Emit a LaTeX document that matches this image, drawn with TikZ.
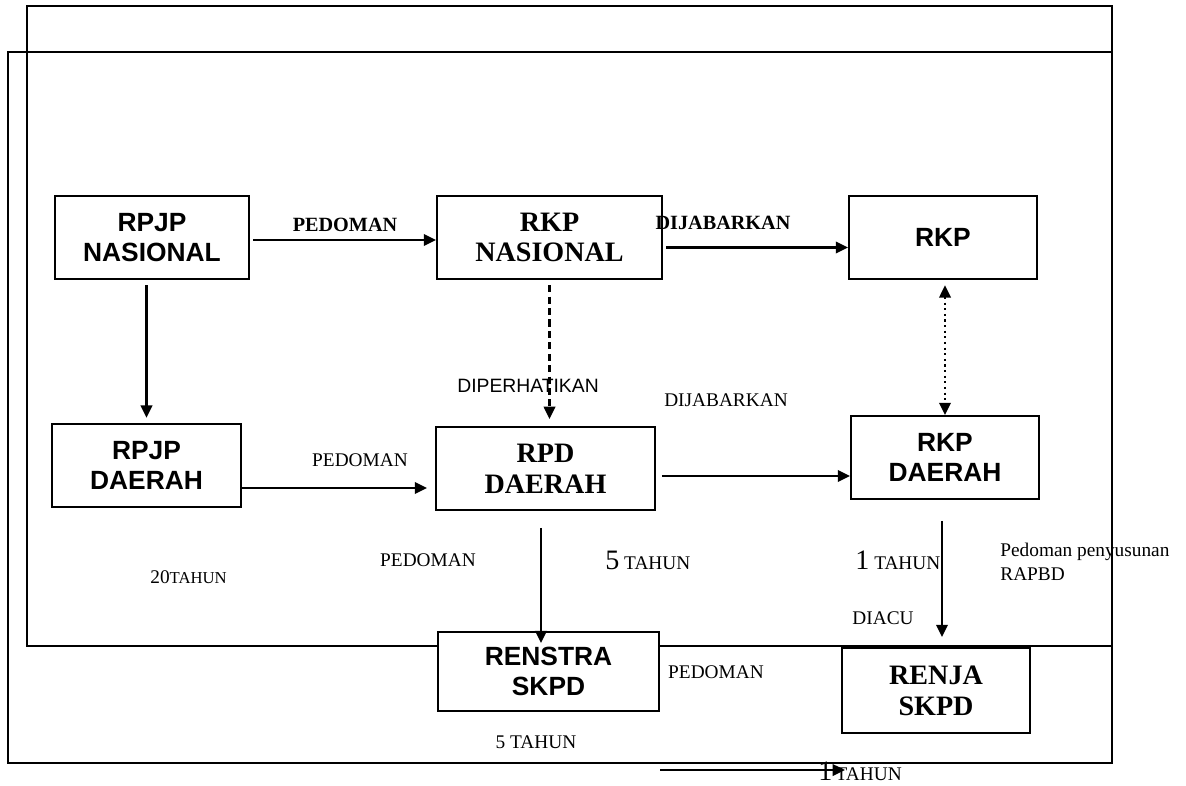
\documentclass[tikz,border=0pt]{standalone}
\usepackage{fontspec}
\setmainfont{Liberation Serif}
\setsansfont{Liberation Sans}
\usetikzlibrary{arrows.meta}

\begin{document}
\begin{tikzpicture}[x=0.02cm, y=-0.02cm, >={Triangle[length=7pt,width=6.5pt]},
        kotak/.style={draw, line width=1.1pt, fill=white, align=center, inner sep=0pt},
        kotaksans/.style={kotak, font=\sffamily\bfseries\fontsize{15}{17.5}\selectfont},
        kotakserif/.style={kotak, font=\bfseries\fontsize{16}{17.5}\selectfont},
        ket/.style={inner sep=0pt, font=\fontsize{11}{13.6}\selectfont},
        ketbold/.style={inner sep=0pt, font=\bfseries\fontsize{11.5}{13.6}\selectfont},
        panah/.style={->, line width=1.2pt}]
        \useasboundingbox (0,0) rectangle (1186,785);

        \draw[line width=1.2pt] (27,6) rectangle (1112,646);
        \draw[line width=1.2pt] (8,52) rectangle (1112,763);

        \node[kotaksans, minimum width=3.88cm, minimum height=1.66cm] (rpjpn) at (152,237.5) {RPJP\\NASIONAL};
        \node[kotakserif, minimum width=4.5cm, minimum height=1.66cm] (rkpn) at (549.5,237.5) {RKP\\NASIONAL};
        \node[kotaksans, minimum width=3.76cm, minimum height=1.66cm] (rkp) at (943,237.5) {RKP};
        \node[kotaksans, minimum width=3.78cm, minimum height=1.66cm] (rpjpd) at (146.5,465.5) {RPJP\\DAERAH};
        \node[kotakserif, minimum width=4.38cm, minimum height=1.66cm] (rpdd) at (545.5,468.5) {RPD\\DAERAH};
        \node[kotaksans, minimum width=3.76cm, minimum height=1.66cm] (rkpd) at (945,457.5) {RKP\\DAERAH};
        \node[kotaksans, minimum width=4.42cm, minimum height=1.58cm] (renstra) at (548.5,671.5) {RENSTRA\\SKPD};
        \node[kotakserif, minimum width=3.76cm, minimum height=1.7cm] (renja) at (936,690.5) {RENJA\\SKPD};

        \draw[panah] ([xshift=2pt, yshift=-0.05cm]rpjpn.east) -- ([yshift=-0.05cm]rkpn.west);
        \draw[panah] ([xshift=2pt, yshift=-0.2cm]rkpn.east) -- ([yshift=-0.2cm]rkp.west);
        \draw[panah] ([yshift=-3pt]rpjpn.south -| rpjpd.north) -- ([yshift=3pt]rpjpd.north);
        \draw[panah, dashed, dash pattern=on 4pt off 2.5pt] ([yshift=-3pt]rkpn.south) -- ([yshift=4pt]rkpn.south |- rpdd.north);
        \draw[<->, line width=1.2pt, dotted] ([yshift=-3pt]rkp.south -| rkpd.north) -- (rkpd.north);
        \draw[panah] ([yshift=-0.45cm]rpjpd.east) -- ([xshift=-0.16cm, yshift=-0.45cm]rpjpd.east -| rpdd.west);
        \draw[panah] ([xshift=0.12cm, yshift=-0.15cm]rpdd.east) -- ([yshift=-0.15cm]rpdd.east -| rkpd.west);
        \draw[panah] ([xshift=-0.09cm, yshift=-0.34cm]rpdd.south) -- ([xshift=-0.09cm, yshift=-0.24cm]rpdd.south |- renstra.north);
        \draw[panah] ([xshift=-0.06cm, yshift=-0.42cm]rkpd.south) -- ([xshift=-0.06cm, yshift=0.2cm]rkpd.south |- renja.north);

        \node[ketbold] (pedoman1) at (345,225) {PEDOMAN};
        \node[ketbold] (jabar1) at (723,223) {DIJABARKAN};
        \node[ket, font=\sffamily\fontsize{11}{13}\selectfont] (perhati) at (528,386) {DIPERHATIKAN};
        \node[ket] (pedoman2) at (360,460) {PEDOMAN};
        \node[ket] (jabar2) at (726,400) {DIJABARKAN};
        \node[ket] (pedoman3) at (428,560) {PEDOMAN};
        \node[ket, anchor=base west] (duapuluh) at (150,583) {20{\fontsize{9.5}{11}\selectfont TAHUN}};
        \node[ket, anchor=base west] (limathn) at (605,569) {{\fontsize{16}{16}\selectfont 5} TAHUN};
        \node[ket, anchor=base west] (satuthn) at (855,569) {{\fontsize{16}{16}\selectfont 1} TAHUN};
        \node[ket, anchor=west, align=left] (rapbd) at (1000,562) {Pedoman penyusunan\\RAPBD};
        \node[ket] (diacu) at (883,618) {DIACU};
        \node[ket] (pedoman4) at (716,672) {PEDOMAN};
        \node[ket] (limathn2) at (536,742) {5 TAHUN};
        \node[ket, anchor=base west] (satuthn2) at (818,780) {{\fontsize{16}{16}\selectfont 1}\,TAHUN};

        \coordinate (tahunkiri) at (660,770);
        \coordinate (tahunkanan) at (845,770);
        \draw[panah] (tahunkiri) -- (tahunkanan);
    \end{tikzpicture}
\end{document}
